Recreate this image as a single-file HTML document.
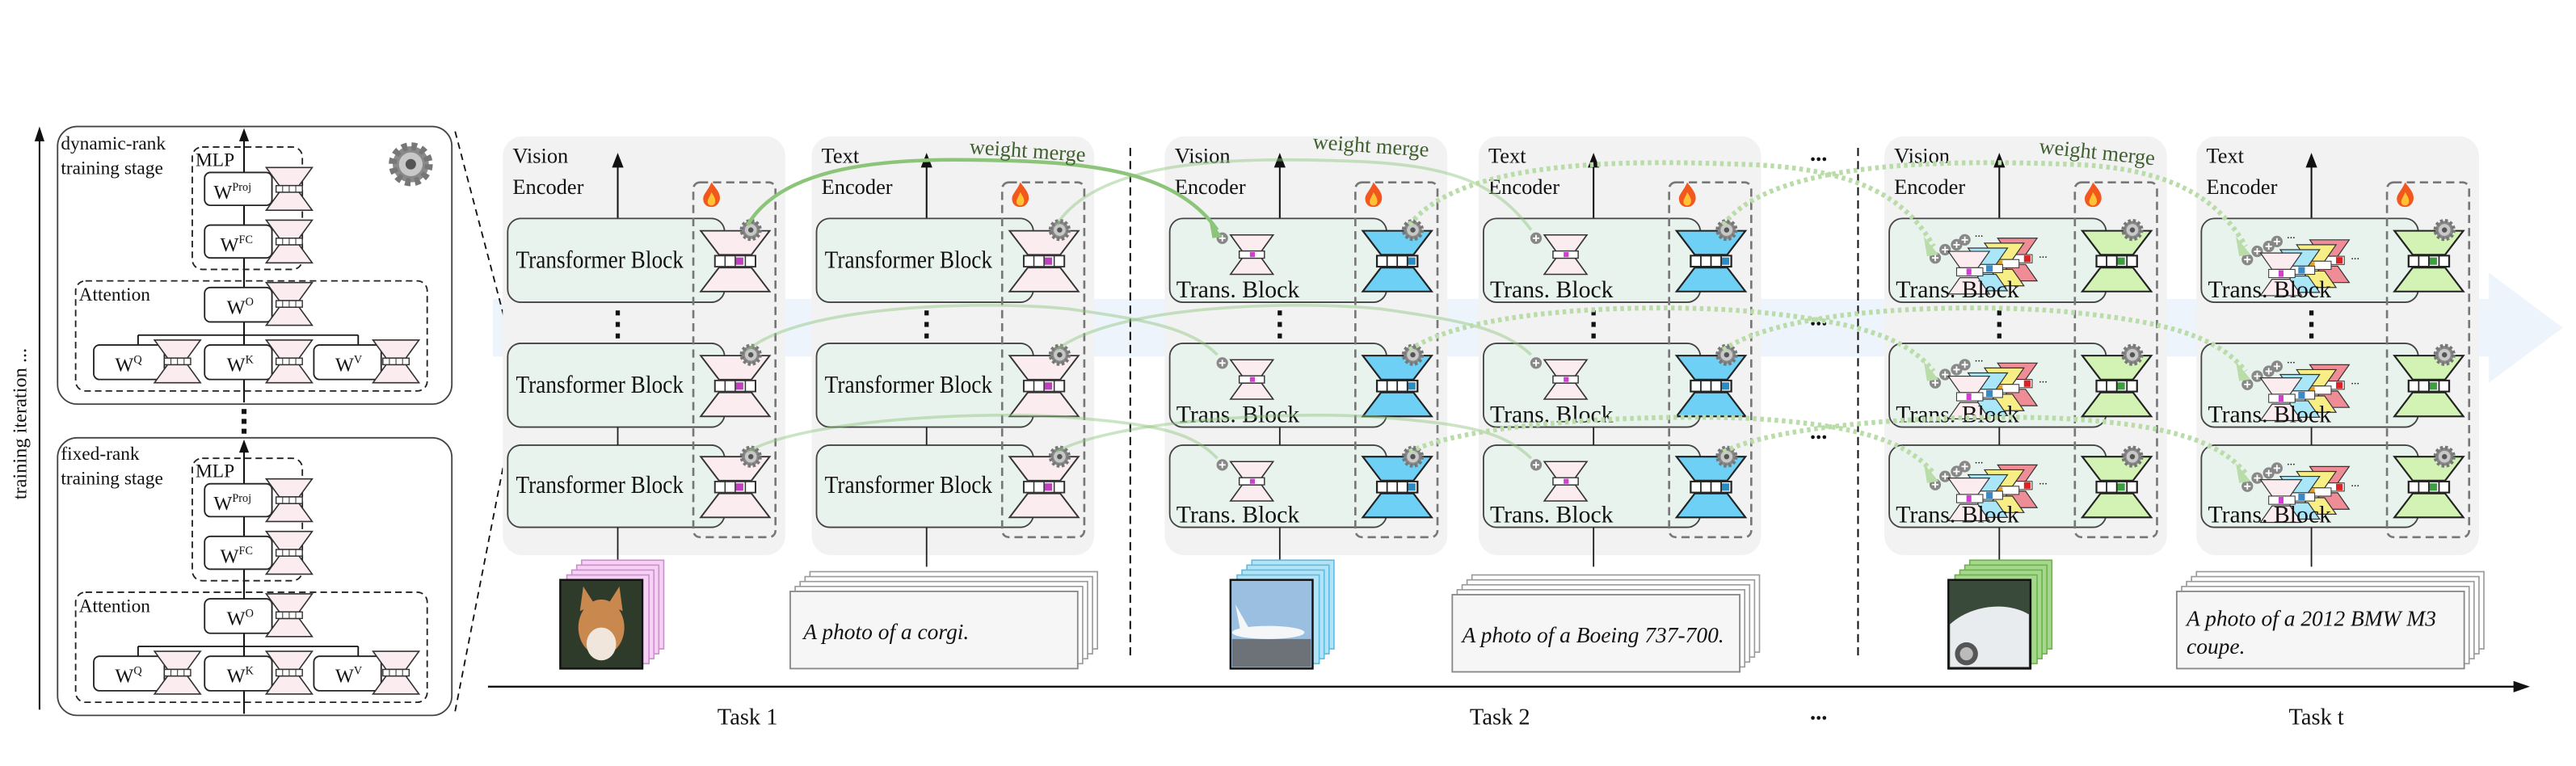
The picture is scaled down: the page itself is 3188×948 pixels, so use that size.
<!DOCTYPE html>
<html><head><meta charset="utf-8"><style>
html,body{margin:0;padding:0;background:#fff;}
svg{display:block;}
text{font-family:"Liberation Serif",serif;fill:#111;}
</style></head><body>
<svg width="3188" height="948" viewBox="0 0 1568 466.3" xmlns="http://www.w3.org/2000/svg">
<defs>
<g id="hgp"><polygon points="0,0 34,0 25,13 9,13" fill="#fbecef" stroke="#333" stroke-width="0.8"/><polygon points="9,20 25,20 34,33 0,33" fill="#fbecef" stroke="#333" stroke-width="0.8"/><rect x="7" y="13.5" width="20" height="6" fill="#fff" stroke="#333" stroke-width="0.8"/><rect x="17" y="14.5" width="4" height="4" fill="#c040c0"/><path d="M12,13.5v6M17,13.5v6M22,13.5v6" stroke="#333" stroke-width="0.6"/></g>
<g id="hgb"><polygon points="0,0 34,0 25,13 9,13" fill="#6fd0f5" stroke="#222" stroke-width="0.9"/><polygon points="9,20 25,20 34,33 0,33" fill="#6fd0f5" stroke="#222" stroke-width="0.9"/><rect x="7" y="13.5" width="20" height="6" fill="#fff" stroke="#222" stroke-width="0.9"/><rect x="22" y="14.5" width="4" height="4" fill="#2b8cc4"/><path d="M12,13.5v6M17,13.5v6M22,13.5v6" stroke="#222" stroke-width="0.7"/></g>
<g id="hgg"><polygon points="0,0 34,0 25,13 9,13" fill="#d3f3b4" stroke="#222" stroke-width="0.9"/><polygon points="9,20 25,20 34,33 0,33" fill="#d3f3b4" stroke="#222" stroke-width="0.9"/><rect x="7" y="13.5" width="20" height="6" fill="#fff" stroke="#222" stroke-width="0.9"/><rect x="17" y="14.5" width="4" height="4" fill="#3ca040"/><path d="M12,13.5v6M17,13.5v6M22,13.5v6" stroke="#222" stroke-width="0.7"/></g>
<g id="hgs"><polygon points="0,0 22,0 16,9 6,9" fill="#fbecef" stroke="#333" stroke-width="0.7"/><polygon points="6,13 16,13 22,22 0,22" fill="#fbecef" stroke="#333" stroke-width="0.7"/><rect x="4.5" y="9" width="13" height="4" fill="#fff" stroke="#333" stroke-width="0.6"/><rect x="10" y="9.6" width="2.6" height="2.8" fill="#d040d0"/></g>
<g id="hgl"><polygon points="0,0 28,0 20,11 8,11" fill="#fbecef" stroke="#333" stroke-width="0.8"/><polygon points="8,15 20,15 28,26 0,26" fill="#fbecef" stroke="#333" stroke-width="0.8"/><rect x="6" y="11" width="16" height="4" fill="#fff" stroke="#333" stroke-width="0.7"/><path d="M10,11v4M14,11v4M18,11v4" stroke="#333" stroke-width="0.5"/></g>
<g id="gear"><circle r="5.5" fill="#8a8a8a" stroke="#777" stroke-width="2.4" stroke-dasharray="1.6 1.3"/><circle r="3.6" fill="#c8c8c8"/><circle r="1.6" fill="#555"/></g>
<g id="fire"><path d="M5,0 C8,4 11,7 10,11 C9,14 7,15 5,15 C2,15 0,13 0,10 C0,7 3,5 5,0Z" fill="#f2571d"/><path d="M5,6 C7,9 8,11 7,13 C6,14.5 4,14.5 3,13 C2,11 4,9 5,6Z" fill="#ffc234"/></g>
<g id="plus"><circle r="3.5" fill="#888"/><path d="M-2,0h4M0,-2v4" stroke="#fff" stroke-width="0.9"/></g>
<g id="multi">
<use href="#plus" x="0" y="12"/><use href="#plus" x="6" y="7"/><use href="#plus" x="13" y="4"/><use href="#plus" x="18" y="1"/>
<polygon points="38,0 62,0 55,10 45,10" fill="#ef8d97" stroke="#333" stroke-width="0.6"/><polygon points="45,16 55,16 62,26 38,26" fill="#ef8d97" stroke="#333" stroke-width="0.6"/><rect x="43" y="10" width="16" height="5" fill="#fff" stroke="#333" stroke-width="0.5"/><rect x="54" y="10.5" width="4" height="4" fill="#d22"/>
<polygon points="30,3 54,3 47,13 37,13" fill="#f7ee85" stroke="#333" stroke-width="0.6"/><polygon points="37,19 47,19 54,29 30,29" fill="#f7ee85" stroke="#333" stroke-width="0.6"/><rect x="35" y="13" width="16" height="5" fill="#fff" stroke="#333" stroke-width="0.5"/><rect x="37" y="13.5" width="4" height="4" fill="#e5a020"/>
<polygon points="20,6 44,6 37,16 27,16" fill="#a8e6f8" stroke="#333" stroke-width="0.6"/><polygon points="27,22 37,22 44,32 20,32" fill="#a8e6f8" stroke="#333" stroke-width="0.6"/><rect x="25" y="16" width="16" height="5" fill="#fff" stroke="#333" stroke-width="0.5"/><rect x="31" y="16.5" width="4" height="4" fill="#3a8ac8"/>
<polygon points="8,8 33,8 26,18 15,18" fill="#fbecef" stroke="#333" stroke-width="0.6"/><polygon points="15,24 26,24 33,34 8,34" fill="#fbecef" stroke="#333" stroke-width="0.6"/><rect x="13" y="18" width="16" height="5" fill="#fff" stroke="#333" stroke-width="0.5"/><rect x="19" y="18.5" width="3" height="4" fill="#d040d0"/>
<text x="24" y="-1" font-size="7">...</text><text x="63" y="12" font-size="7">...</text>
</g>
<g id="panelbase">
<rect x="0" y="83" width="172" height="255" rx="12" fill="#f2f2f2"/>
<line x1="70" y1="133" x2="70" y2="100" stroke="#111" stroke-width="1"/><polygon points="66.5,102 70,93 73.5,102" fill="#111"/>
<rect x="3" y="133" width="132" height="51" rx="8" fill="#e9f3ed" stroke="#444" stroke-width="0.9"/>
<rect x="3" y="209" width="132" height="51" rx="8" fill="#e9f3ed" stroke="#444" stroke-width="0.9"/>
<rect x="3" y="271" width="132" height="50" rx="8" fill="#e9f3ed" stroke="#444" stroke-width="0.9"/>
<line x1="70" y1="260" x2="70" y2="271" stroke="#222" stroke-width="0.9"/>
<line x1="70" y1="321" x2="70" y2="345" stroke="#222" stroke-width="0.9"/>
<rect x="68.7" y="189" width="2.6" height="3" fill="#111"/><rect x="68.7" y="196" width="2.6" height="3" fill="#111"/><rect x="68.7" y="203" width="2.6" height="3" fill="#111"/>
<rect x="116" y="111" width="50" height="216" rx="4" fill="none" stroke="#777" stroke-width="1.3" stroke-dasharray="5 3"/>
<use href="#fire" x="122" y="111"/>
</g>
<g id="rightT1">
<use href="#hgp" transform="translate(120.5,140.5) scale(1.235,1.12)"/><use href="#hgp" transform="translate(120.5,216.5) scale(1.235,1.12)"/><use href="#hgp" transform="translate(120.5,278) scale(1.235,1.12)"/>
<use href="#gear" x="151" y="140"/><use href="#gear" x="151" y="216"/><use href="#gear" x="151" y="278"/>
</g>
<g id="rightT2">
<use href="#hgb" transform="translate(120.5,140.5) scale(1.235,1.12)"/><use href="#hgb" transform="translate(120.5,216.5) scale(1.235,1.12)"/><use href="#hgb" transform="translate(120.5,278) scale(1.235,1.12)"/>
<use href="#gear" x="151" y="140"/><use href="#gear" x="151" y="216"/><use href="#gear" x="151" y="278"/>
</g>
<g id="rightTt">
<use href="#hgg" transform="translate(120.5,140.5) scale(1.235,1.12)"/><use href="#hgg" transform="translate(120.5,216.5) scale(1.235,1.12)"/><use href="#hgg" transform="translate(120.5,278) scale(1.235,1.12)"/>
<use href="#gear" x="151" y="140"/><use href="#gear" x="151" y="216"/><use href="#gear" x="151" y="278"/>
</g>
<g id="tb1" font-size="15">
<text x="8" y="163" textLength="102" lengthAdjust="spacingAndGlyphs">Transformer Block</text>
<text x="8" y="239" textLength="102" lengthAdjust="spacingAndGlyphs">Transformer Block</text>
<text x="8" y="300" textLength="102" lengthAdjust="spacingAndGlyphs">Transformer Block</text>
</g>
<g id="tb2" font-size="14.5">
<text x="7" y="181" textLength="75" lengthAdjust="spacingAndGlyphs">Trans. Block</text>
<text x="7" y="257" textLength="75" lengthAdjust="spacingAndGlyphs">Trans. Block</text>
<text x="7" y="318" textLength="75" lengthAdjust="spacingAndGlyphs">Trans. Block</text>
</g>
<g id="small">
<use href="#plus" x="35" y="145"/><use href="#plus" x="35" y="221"/><use href="#plus" x="35" y="283"/>
<use href="#hgs" transform="translate(40,143) scale(1.18,1.09)"/><use href="#hgs" transform="translate(40,219) scale(1.18,1.09)"/><use href="#hgs" transform="translate(40,281) scale(1.18,1.09)"/>
</g>
</defs>

<!-- blue arrow band -->
<rect x="300" y="182" width="1216" height="35" fill="#edf4fb"/>
<polygon points="1515,166 1560,199.5 1515,233" fill="#edf4fb"/>

<!-- left axis -->
<line x1="24" y1="432" x2="24" y2="84" stroke="#111" stroke-width="1"/><polygon points="21,86 24,77 27,86" fill="#111"/>
<text transform="translate(16,258) rotate(-90)" font-size="12" text-anchor="middle">training iteration ...</text>

<!-- left boxes -->
<g id="lb1">
<rect x="35" y="77" width="240" height="169" rx="12" fill="#fff" stroke="#444" stroke-width="0.9"/>
<line x1="148.5" y1="245" x2="148.5" y2="84" stroke="#111" stroke-width="1"/><polygon points="145.5,86 148.5,78 151.5,86" fill="#111"/>
<rect x="117" y="89.5" width="67" height="74.5" rx="6" fill="none" stroke="#222" stroke-width="0.9" stroke-dasharray="4 2.5"/>
<text x="119" y="101" font-size="11.5">MLP</text>
<rect x="46" y="171" width="214" height="67" rx="6" fill="none" stroke="#222" stroke-width="0.9" stroke-dasharray="4 2.5"/>
<text x="48" y="183" font-size="11.5">Attention</text>
<line x1="84" y1="204" x2="218" y2="204" stroke="#111" stroke-width="0.9"/>
<line x1="84" y1="204" x2="84" y2="210" stroke="#111" stroke-width="0.9"/><line x1="218" y1="204" x2="218" y2="210" stroke="#111" stroke-width="0.9"/>
<rect x="124.5" y="105" width="41" height="20" rx="3.5" fill="#fff" stroke="#222" stroke-width="0.9"/>
<text x="130" y="121" font-size="12">W<tspan font-size="7" dy="-5">Proj</tspan></text>
<use href="#hgl" x="162" y="102"/>
<rect x="124.5" y="137" width="41" height="20" rx="3.5" fill="#fff" stroke="#222" stroke-width="0.9"/>
<text x="134" y="153" font-size="12">W<tspan font-size="7" dy="-5">FC</tspan></text>
<use href="#hgl" x="162" y="134"/>
<rect x="124.5" y="175" width="41" height="21" rx="3.5" fill="#fff" stroke="#222" stroke-width="0.9"/>
<text x="138" y="191" font-size="12">W<tspan font-size="7" dy="-5">O</tspan></text>
<use href="#hgl" x="162" y="172"/>
<rect x="57" y="210" width="43" height="21" rx="3.5" fill="#fff" stroke="#222" stroke-width="0.9"/>
<text x="70" y="226" font-size="12">W<tspan font-size="7" dy="-5">Q</tspan></text>
<use href="#hgl" x="94" y="207"/>
<rect x="124.5" y="210" width="41" height="21" rx="3.5" fill="#fff" stroke="#222" stroke-width="0.9"/>
<text x="138" y="226" font-size="12">W<tspan font-size="7" dy="-5">K</tspan></text>
<use href="#hgl" x="162" y="207"/>
<rect x="191" y="210" width="41" height="21" rx="3.5" fill="#fff" stroke="#222" stroke-width="0.9"/>
<text x="204" y="226" font-size="12">W<tspan font-size="7" dy="-5">V</tspan></text>
<use href="#hgl" x="227" y="207"/>
</g>
<text x="37" y="91" font-size="11.5">dynamic-rank</text>
<text x="37" y="106" font-size="11.5">training stage</text>
<g transform="translate(250,100) scale(2)"><use href="#gear"/></g>
<use href="#lb1" y="189.5"/>
<text x="37" y="280" font-size="11.5">fixed-rank</text>
<text x="37" y="295" font-size="11.5">training stage</text>
<rect x="147" y="249" width="3" height="3" fill="#111"/><rect x="147" y="255" width="3" height="3" fill="#111"/><rect x="147" y="261" width="3" height="3" fill="#111"/>

<!-- zoom dashed lines -->
<line x1="277" y1="80" x2="311" y2="209" stroke="#111" stroke-width="0.9" stroke-dasharray="4 3"/>
<line x1="277" y1="433" x2="311" y2="260" stroke="#111" stroke-width="0.9" stroke-dasharray="4 3"/>

<!-- separators -->
<line x1="688" y1="90" x2="688" y2="400" stroke="#111" stroke-width="1" stroke-dasharray="5 3"/>
<line x1="1131" y1="90" x2="1131" y2="400" stroke="#111" stroke-width="1" stroke-dasharray="5 3"/>
<g font-size="14" font-weight="bold" text-anchor="middle"><text x="1107" y="98">...</text><text x="1107" y="198">...</text><text x="1107" y="267">...</text><text x="1107" y="438">...</text></g>

<!-- V1 -->
<g transform="translate(306,0)">
<use href="#panelbase"/>
<text x="6" y="99" font-size="13">Vision</text><text x="6" y="118" font-size="13">Encoder</text>
<use href="#tb1"/><use href="#rightT1"/>
</g>
<!-- T1 -->
<g transform="translate(494,0)">
<use href="#panelbase"/>
<text x="6" y="99" font-size="13">Text</text><text x="6" y="118" font-size="13">Encoder</text>
<use href="#tb1"/><use href="#rightT1"/>
</g>
<!-- V2 -->
<g transform="translate(709,0)">
<use href="#panelbase"/>
<text x="6" y="99" font-size="13">Vision</text><text x="6" y="118" font-size="13">Encoder</text>
<use href="#small"/><use href="#tb2"/><use href="#rightT2"/>
</g>
<!-- T2 -->
<g transform="translate(900,0)">
<use href="#panelbase"/>
<text x="6" y="99" font-size="13">Text</text><text x="6" y="118" font-size="13">Encoder</text>
<use href="#small"/><use href="#tb2"/><use href="#rightT2"/>
</g>
<!-- Vt -->
<g transform="translate(1147,0)">
<use href="#panelbase"/>
<text x="6" y="99" font-size="13">Vision</text><text x="6" y="118" font-size="13">Encoder</text>
<use href="#multi" x="31" y="145"/><use href="#multi" x="31" y="221"/><use href="#multi" x="31" y="283"/>
<use href="#tb2"/><use href="#rightTt"/>
</g>
<!-- Tt -->
<g transform="translate(1337,0)">
<use href="#panelbase"/>
<text x="6" y="99" font-size="13">Text</text><text x="6" y="118" font-size="13">Encoder</text>
<use href="#multi" x="31" y="146"/><use href="#multi" x="31" y="222"/><use href="#multi" x="31" y="284"/>
<use href="#tb2"/><use href="#rightTt"/>
</g>

<!-- weight merge arcs -->
<g fill="none">
<path d="M455,137 C480,95 560,96 620,98 C680,100 720,110 741,140" stroke="#8cc47a" stroke-width="2.2"/>
<polygon points="736,134 744,144 738,145" fill="#8cc47a"/>
<path d="M455,213 C490,185 600,183 650,188 C700,195 725,200 741,216" stroke="#8cc47a" stroke-width="1.8" opacity="0.45"/>
<path d="M455,275 C490,255 600,250 650,254 C700,258 725,262 741,279" stroke="#8cc47a" stroke-width="1.8" opacity="0.45"/>
<path d="M643,137 C670,95 760,96 820,98 C880,100 910,110 932,140" stroke="#8cc47a" stroke-width="1.8" opacity="0.45"/>
<path d="M643,213 C680,185 790,183 840,188 C890,195 915,200 932,216" stroke="#8cc47a" stroke-width="1.8" opacity="0.45"/>
<path d="M643,275 C680,255 790,250 840,254 C890,258 915,262 932,279" stroke="#8cc47a" stroke-width="1.8" opacity="0.45"/>
<g stroke="#b9dca9" stroke-width="3" stroke-dasharray="2.2 2.2">
<path d="M858,137 C890,95 1000,98 1060,100 C1130,102 1160,120 1177,150"/>
<path d="M858,213 C900,185 1020,185 1070,190 C1130,196 1160,205 1177,226"/>
<path d="M858,275 C900,255 1020,252 1070,255 C1130,259 1160,268 1177,288"/>
<path d="M1049,137 C1080,95 1200,98 1260,100 C1320,102 1350,120 1367,150"/>
<path d="M1049,213 C1090,185 1210,185 1260,190 C1320,196 1350,205 1367,226"/>
<path d="M1049,275 C1090,255 1210,252 1260,255 C1320,259 1350,268 1367,288"/>
</g>
<g fill="#b9dca9"><polygon points="1171,144 1180,155 1173,156"/><polygon points="1361,144 1370,155 1363,156"/><polygon points="1171,220 1180,231 1173,232"/><polygon points="1361,220 1370,231 1363,232"/><polygon points="1171,282 1180,293 1173,294"/><polygon points="1361,282 1370,293 1363,294"/></g>
</g>
<g font-size="13"><text x="590" y="96" transform="rotate(4 626 93)" style="fill:#3f5f2f">weight merge</text><text x="799" y="93" transform="rotate(4 836 90)" style="fill:#3f5f2f">weight merge</text><text x="1241" y="97" transform="rotate(6 1278 94)" style="fill:#3f5f2f">weight merge</text></g>

<!-- image stacks -->
<g stroke-width="0.8">
<g fill="#f5d2f3" stroke="#d28ad4"><rect x="354" y="341" width="50" height="54"/><rect x="351" y="344" width="50" height="54"/><rect x="348" y="347" width="50" height="54"/><rect x="345" y="350" width="50" height="54"/></g>
<g fill="#b4e3f5" stroke="#5bbce4"><rect x="762" y="341" width="50" height="54"/><rect x="759" y="344" width="50" height="54"/><rect x="756" y="347" width="50" height="54"/><rect x="753" y="350" width="50" height="54"/></g>
<g fill="#a6d78e" stroke="#6ab544"><rect x="1199" y="341" width="50" height="54"/><rect x="1196" y="344" width="50" height="54"/><rect x="1193" y="347" width="50" height="54"/><rect x="1190" y="350" width="50" height="54"/></g>
</g>
<!-- corgi -->
<rect x="341" y="353" width="50" height="54" fill="#2f3b2a" stroke="#111" stroke-width="1.2"/>
<ellipse cx="366" cy="382" rx="14" ry="17" fill="#c9884e"/><ellipse cx="366" cy="392" rx="9" ry="10" fill="#f1e6dc"/>
<polygon points="353,372 355,357 362,368" fill="#c9884e"/><polygon points="379,372 377,357 370,368" fill="#c9884e"/>
<!-- plane -->
<rect x="749" y="353" width="50" height="54" fill="#9bbfe0" stroke="#111" stroke-width="1.2"/>
<rect x="750" y="389" width="48" height="17" fill="#6c7278"/>
<ellipse cx="772" cy="385" rx="22" ry="4" fill="#f4f6f8"/><polygon points="755,384 752,368 760,382" fill="#f4f6f8"/>
<!-- car -->
<rect x="1186" y="353" width="50" height="54" fill="#3a4a3a" stroke="#111" stroke-width="1.2"/>
<path d="M1187,380 C1200,368 1222,366 1235,374 L1235,406 L1187,406Z" fill="#e8ecef"/>
<circle cx="1197" cy="398" r="7" fill="#555"/><circle cx="1197" cy="398" r="4" fill="#bbb"/>

<!-- text stacks -->
<g fill="#fff" stroke="#999" stroke-width="0.8">
<rect x="493" y="348" width="175" height="47"/><rect x="490" y="351" width="175" height="47"/><rect x="487" y="354" width="175" height="47"/><rect x="484" y="357" width="175" height="47"/>
<rect x="896" y="350" width="175" height="47"/><rect x="893" y="353" width="175" height="47"/><rect x="890" y="356" width="175" height="47"/><rect x="887" y="359" width="175" height="47"/>
<rect x="1337" y="348" width="175" height="47"/><rect x="1334" y="351" width="175" height="47"/><rect x="1331" y="354" width="175" height="47"/><rect x="1328" y="357" width="175" height="47"/>
</g>
<g fill="#f6f6f6" stroke="#888" stroke-width="0.9">
<rect x="481" y="360" width="175" height="47"/><rect x="884" y="362" width="175" height="47"/><rect x="1325" y="360" width="175" height="47"/>
</g>
<g font-size="13.5" font-style="italic">
<text x="489" y="389">A photo of a corgi.</text>
<text x="890" y="391">A photo of a Boeing 737-700.</text>
<text x="1331" y="381">A photo of a 2012 BMW M3</text>
<text x="1331" y="398">coupe.</text>
</g>

<!-- task axis -->
<line x1="297" y1="418" x2="1532" y2="418" stroke="#111" stroke-width="1.2"/>
<polygon points="1530,414.5 1540,418 1530,421.5" fill="#111"/>
<g font-size="14" text-anchor="middle"><text x="455" y="441">Task 1</text><text x="913" y="441">Task 2</text><text x="1410" y="441">Task t</text></g>
</svg>
</body></html>
